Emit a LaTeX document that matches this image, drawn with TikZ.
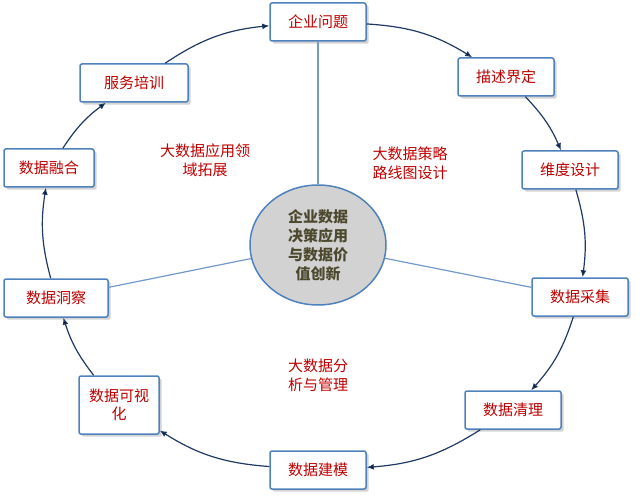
\documentclass[tikz,border=0pt]{standalone}
\usepackage{fontspec}
\setmainfont{Noto Sans CJK SC}
\usetikzlibrary{shadows,arrows.meta,shapes.geometric}
\definecolor{boxline}{RGB}{79,129,189}
\definecolor{txtred}{RGB}{192,0,0}
\definecolor{ringline}{RGB}{31,56,100}
\tikzset{
  stagebox/.style={draw=boxline,line width=1.5pt,fill=white,rounded corners=2pt,
    minimum width=96pt,minimum height=38pt,text=txtred,align=center,
    font=\fontsize{15}{18}\selectfont,drop shadow={opacity=0.35}},
  ring/.style={-{Latex[length=7pt,width=6pt]},draw=ringline,line width=1.2pt},
  spoke/.style={draw=boxline!80,line width=1.2pt},
  tag/.style={text=txtred,align=center,font=\fontsize{15}{19}\selectfont}
}
\begin{document}
\begin{tikzpicture}[x=1pt,y=-1pt]
\useasboundingbox (0,0) rectangle (643,500);
\node(core) at (318,245)[ellipse,draw=boxline,line width=1.5pt,fill=gray!35,
  minimum width=136pt,minimum height=120pt,text=black!60!olive,align=center,
  font=\bfseries\fontsize{15}{19}\selectfont,inner sep=0pt]
  {企业数据\\决策应用\\与数据价\\值创新};
\node(q) at (318,22)[stagebox]  {企业问题};
\node(d) at (506,77)[stagebox]  {描述界定};
\node(w) at (570,170)[stagebox] {维度设计};
\node(c) at (580,297)[stagebox] {数据采集};
\node(l) at (513,410)[stagebox] {数据清理};
\node(m) at (318,470)[stagebox] {数据建模};
\node(v) at (119,405)[stagebox,minimum width=80pt,minimum height=58pt] {数据可视\\化};
\node(i) at (56,298)[stagebox,minimum width=104pt]  {数据洞察};
\node(f) at (49,168)[stagebox,minimum width=90pt]   {数据融合};
\node(s) at (134,83)[stagebox,minimum width=108pt]  {服务培训};
\path[spoke]
  (core) edge (q)
  (core) edge (c)
  (core) edge (i);
\path[ring]
  (q) edge[bend left=14] (d)
  (d) edge[bend left=10] (w)
  (w) edge[bend left=12] (c)
  (c) edge[bend left=12] (l)
  (l) edge[bend left=14] (m)
  (m) edge[bend left=14] (v)
  (v) edge[bend left=10] (i)
  (i) edge[bend left=12] (f)
  (f) edge[bend left=10] (s)
  (s) edge[bend left=14] (q);
\node(t1) at (205,160)[tag] {大数据应用领\\域拓展};
\node(t2) at (410,163)[tag] {大数据策略\\路线图设计};
\node(t3) at (318,375)[tag] {大数据分\\析与管理};
\end{tikzpicture}
\end{document}
